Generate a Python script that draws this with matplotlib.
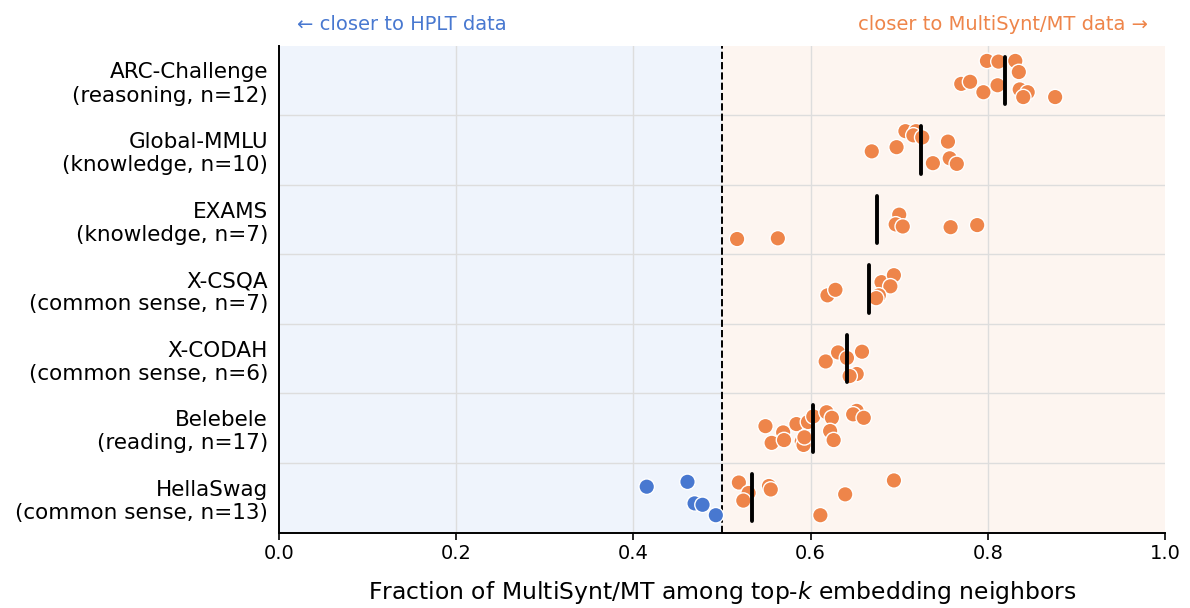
import numpy as np
import matplotlib.pyplot as plt

# benchmarks, top to bottom
tasks = ["ARC-Challenge\n(reasoning, n=12)",
         "Global-MMLU\n(knowledge, n=10)",
         "EXAMS\n(knowledge, n=7)",
         "X-CSQA\n(common sense, n=7)",
         "X-CODAH\n(common sense, n=6)",
         "Belebele\n(reading, n=17)",
         "HellaSwag\n(common sense, n=13)"]

# fraction of MultiSynt/MT neighbours, one value per language
arc = [0.799, 0.812, 0.831, 0.835, 0.770, 0.780, 0.795, 0.811, 0.836, 0.845, 0.840, 0.876]
mmlu = [0.669, 0.697, 0.707, 0.719, 0.716, 0.726, 0.755, 0.757, 0.738, 0.765]
exams = [0.517, 0.563, 0.700, 0.696, 0.704, 0.758, 0.788]
xcsqa = [0.619, 0.628, 0.680, 0.694, 0.690, 0.677, 0.674]
xcodah = [0.617, 0.631, 0.641, 0.658, 0.652, 0.644]
belebele = [0.549, 0.569, 0.556, 0.570, 0.584, 0.590, 0.592, 0.597, 0.603,
            0.618, 0.624, 0.622, 0.626, 0.652, 0.648, 0.660, 0.593]
hellaswag = [0.415, 0.461, 0.469, 0.478, 0.493, 0.519, 0.530, 0.524,
             0.553, 0.555, 0.639, 0.611, 0.694]

# vertical jitter
arc_j = [-0.28, -0.27, -0.28, -0.12, 0.05, 0.02, 0.17, 0.07, 0.13, 0.17, 0.24, 0.24]
mmlu_j = [0.02, -0.04, -0.27, -0.27, -0.21, -0.18, -0.12, 0.12, 0.19, 0.2]
exams_j = [0.28, 0.27, -0.07, 0.07, 0.1, 0.11, 0.08]
xcsqa_j = [0.09, 0.01, -0.1, -0.2, -0.04, 0.09, 0.13]
xcodah_j = [0.04, -0.09, -0.01, -0.1, 0.22, 0.25]
belebele_j = [-0.03, 0.06, 0.21, 0.17, -0.06, 0.19, 0.24, -0.09, -0.17,
              -0.23, -0.15, 0.04, 0.17, -0.25, -0.2, -0.15, 0.13]
hellaswag_j = [-0.16, -0.23, 0.08, 0.1, 0.25, -0.22, -0.07, 0.04,
               -0.17, -0.12, -0.05, 0.25, -0.25]

values = [arc, mmlu, exams, xcsqa, xcodah, belebele, hellaswag]
jitters = [arc_j, mmlu_j, exams_j, xcsqa_j, xcodah_j, belebele_j, hellaswag_j]

blue = "#4878d0"
orange = "#ee854a"

fig = plt.figure(figsize=(11.9, 6.08), dpi=100)
ax = fig.add_axes([0.2345, 0.124, 0.7445, 0.801])

ax.axvspan(0, 0.5, color="#eff4fc", zorder=0)
ax.axvspan(0.5, 1.0, color="#fdf5f0", zorder=0)

for i, (v, j) in enumerate(zip(values, jitters)):
    v = np.array(v)
    y = i + np.array(j)
    cols = [blue if x < 0.5 else orange for x in v]
    ax.scatter(v, y, s=125, c=cols, edgecolor="white", linewidth=1.0, zorder=3)
    m = v.mean()
    ax.plot([m, m], [i - 0.34, i + 0.34], color="black", lw=2.8,
            solid_capstyle="round", zorder=4)

ax.axvline(0.5, color="black", ls="--", lw=1.4, zorder=2)

for k in range(len(tasks) - 1):
    ax.axhline(k + 0.5, color="#dddddd", lw=1.0, zorder=1)
for xt in [0.2, 0.4, 0.6, 0.8]:
    ax.axvline(xt, color="#dddddd", lw=1.0, zorder=1)

ax.set_xlim(0, 1)
ax.set_ylim(len(tasks) - 0.5, -0.5)
ax.set_yticks(range(len(tasks)))
ax.set_yticklabels(tasks, fontsize=15.5)
ax.tick_params(axis="y", length=0, pad=8)
ax.set_xticks(np.arange(0, 1.01, 0.2))
ax.tick_params(axis="x", labelsize=14, length=5, width=1.2)
ax.set_xlabel("Fraction of MultiSynt/MT among top-$k$ embedding neighbors",
              fontsize=16.9, labelpad=11)

for s in ["top", "right"]:
    ax.spines[s].set_visible(False)
for s in ["left", "bottom"]:
    ax.spines[s].set_linewidth(1.4)

ax.text(0.02, 1.044, "← closer to HPLT data", transform=ax.transAxes,
        color=blue, fontsize=14, ha="left", va="center")
ax.text(0.981, 1.044, "closer to MultiSynt/MT data →", transform=ax.transAxes,
        color=orange, fontsize=14, ha="right", va="center")

plt.savefig("out.png", dpi=100)
